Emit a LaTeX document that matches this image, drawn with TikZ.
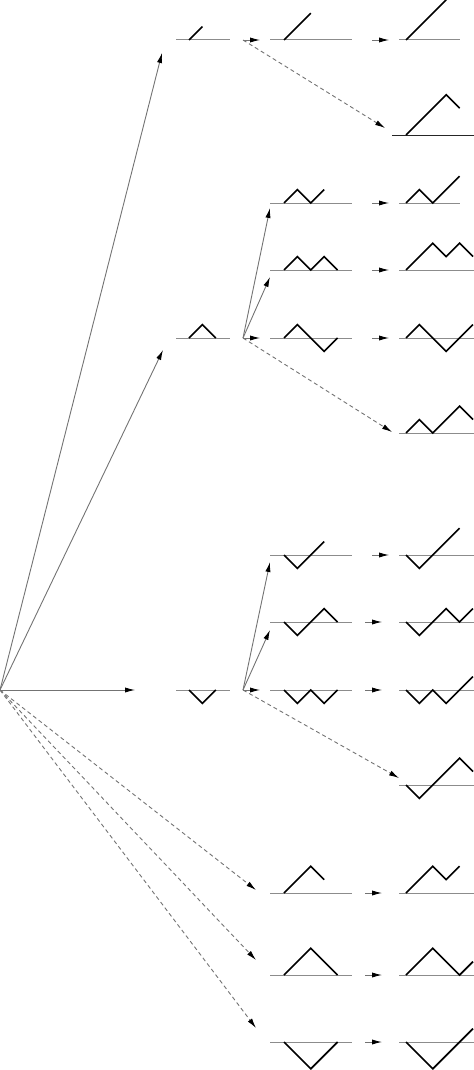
\documentclass[tikz,border=0pt]{standalone}
\usepackage{tikz}
\usetikzlibrary{arrows.meta}

\tikzset{
  base/.style={draw=black!45, line width=0.5pt},
  darkbase/.style={draw=black!85, line width=0.5pt},
  walkline/.style={draw=black, line width=0.8pt},
  growarrow/.style={draw=black!55, line width=0.45pt, -{Latex[length=5pt,width=2.6pt,black]}},
  jumparrow/.style={growarrow, dash pattern=on 2pt off 1.5pt},
}

% path start x, y, baseline from, baseline to, steps (1 up, -1 down)
\newcommand{\walk}[6][base]{%
  \draw[#1] (#4,#3) -- (#5,#3);
  \begin{scope}[shift={(#2,#3)},x=6.7pt,y=6.7pt]
    \draw[walkline] (0,0) \foreach \s in {#6} {-- ++(1,\s)};
  \end{scope}}

\begin{document}
\begin{tikzpicture}[x=0.5pt,y=-0.5pt]
    \useasboundingbox (0,0) rectangle (474,1070);

    % first column
    \walk{189}{40}{176}{230}{1}
    \walk{189}{338}{176}{230}{1,-1}
    \walk{189}{690}{176}{230}{-1,1}

    % second column
    \walk{284}{40}{270}{352}{1,1}
    \walk{284}{203}{270}{352}{1,-1,1}
    \walk{284}{270}{270}{352}{1,-1,1,-1}
    \walk{284}{338}{270}{352}{1,-1,-1,1}
    \walk{284}{555}{270}{352}{-1,1,1}
    \walk{284}{622}{270}{352}{-1,1,1,-1}
    \walk{284}{690}{270}{352}{-1,1,-1,1}
    \walk{284}{893}{270}{352}{1,1,-1}
    \walk{284}{975}{270}{352}{1,1,-1,-1}
    \walk{284}{1042}{270}{352}{-1,-1,1,1}

    % third column
    \walk{406}{40}{399}{460}{1,1,1}
    \walk[darkbase]{406}{135}{392}{474}{1,1,1,-1}
    \walk{406}{203}{399}{460}{1,-1,1,1}
    \walk{406}{270}{399}{474}{1,1,-1,1,-1}
    \walk{406}{338}{399}{474}{1,-1,-1,1,1}
    \walk{406}{433}{399}{474}{1,-1,1,1,-1}
    \walk{406}{555}{399}{474}{-1,1,1,1}
    \walk{406}{622}{399}{474}{-1,1,1,-1,1}
    \walk{406}{690}{399}{474}{-1,1,-1,1,1}
    \walk{406}{785}{399}{474}{-1,1,1,1,-1}
    \walk{406}{893}{399}{474}{1,1,-1,1}
    \walk{406}{975}{399}{474}{1,1,-1,-1,1}
    \walk{406}{1042}{399}{474}{-1,-1,1,1,1}

    \coordinate (root) at (0,690);
    \coordinate (up) at (162,53);
    \coordinate (peak) at (163,350);
    \coordinate (valley) at (135,690);
    \coordinate (h) at (256,890);
    \coordinate (i) at (256,960);
    \coordinate (j) at (256,1028);

    \coordinate (forkA) at (243,40);
    \coordinate (forkD) at (243,338);
    \coordinate (forkG) at (243,690);
    \coordinate (nA) at (260,40);
    \coordinate (jA) at (385,128);
    \coordinate (nB) at (270,208);
    \coordinate (nC) at (270,277);
    \coordinate (nD) at (260,338);
    \coordinate (jD) at (392,432);
    \coordinate (nE) at (270,562);
    \coordinate (nF) at (270,630);
    \coordinate (nG) at (260,690);
    \coordinate (jG) at (399,778);

    \draw[growarrow] (root) -- (up);
    \draw[growarrow] (root) -- (peak);
    \draw[growarrow] (root) -- (valley);
    \draw[jumparrow] (root) -- (h);
    \draw[jumparrow] (root) -- (i);
    \draw[jumparrow] (root) -- (j);

    \draw[growarrow] (forkA) -- (nA);
    \draw[jumparrow] (forkA) -- (jA);
    \draw[growarrow] (forkD) -- (nB);
    \draw[growarrow] (forkD) -- (nC);
    \draw[growarrow] (forkD) -- (nD);
    \draw[jumparrow] (forkD) -- (jD);
    \draw[growarrow] (forkG) -- (nE);
    \draw[growarrow] (forkG) -- (nF);
    \draw[growarrow] (forkG) -- (nG);
    \draw[jumparrow] (forkG) -- (jG);

    % second to third column
    \foreach \y/\x in {40/372, 203/372, 270/372, 338/372, 555/372,
                       622/365, 690/365, 893/365, 975/365, 1042/365} {
        \coordinate (from\y) at (\x,\y);
        \coordinate (to\y) at (\x+17,\y);
        \draw[growarrow] (from\y) -- (to\y);
    }
\end{tikzpicture}
\end{document}
